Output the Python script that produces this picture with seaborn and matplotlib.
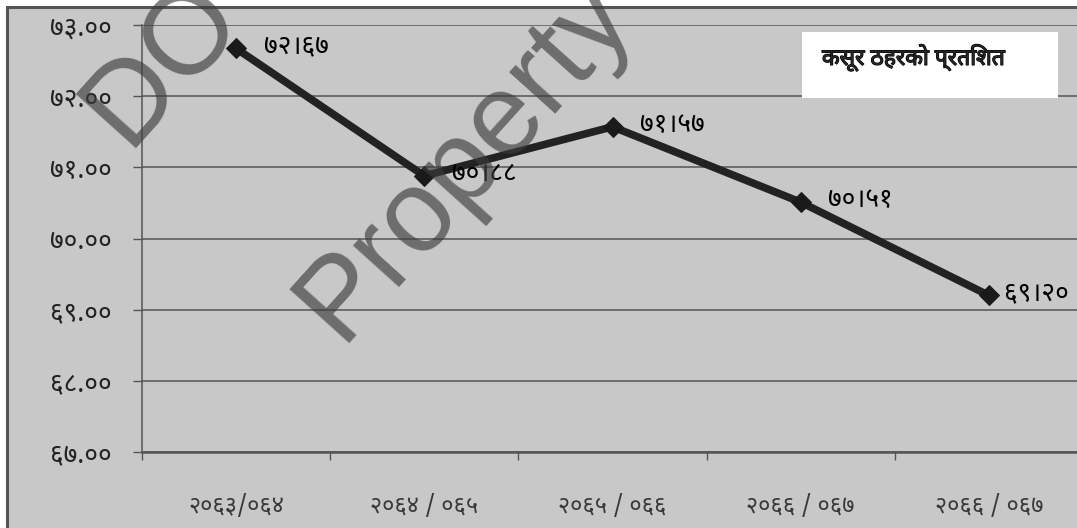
import numpy as np
import matplotlib
matplotlib.use('Agg')
import matplotlib.pyplot as plt
import matplotlib.patheffects as pe
from matplotlib import font_manager
from matplotlib.patches import Rectangle
import seaborn as sns

# Data
years = ['२०६३/०६४', '२०६४ / ०६५', '२०६५ / ०६६', '२०६६ / ०६७', '२०६६ / ०६७']
conviction_rate = [72.67, 70.88, 71.57, 70.51, 69.20]
y_ticks = [67, 68, 69, 70, 71, 72, 73]
legend_label = 'कसूर ठहरको प्रतिशत'

DEVA = str.maketrans('0123456789', '०१२३४५६७८९')


def pick_font(prefs):
    installed = {f.name for f in font_manager.fontManager.ttflist}
    for p in prefs:
        if p in installed:
            return p
    return 'FreeSans'


def main():
    sns.set_style('white')
    deva = pick_font(['Noto Sans Devanagari', 'Hind', 'Mukta', 'Poppins', 'Annapurna SIL', 'FreeSans'])
    plt.rcParams['font.family'] = [deva, 'DejaVu Sans']

    W, H = 1077, 528
    fig = plt.figure(figsize=(W / 100, H / 100), dpi=100)
    fig.patch.set_facecolor('white')

    # chart area
    fig.add_artist(Rectangle((7 / W, -0.1), 1.2, (H - 7) / H + 0.1, transform=fig.transFigure,
                             facecolor='#c8c8c8', edgecolor='#555555', lw=2.2, zorder=-5))

    ax = fig.add_axes([142 / W, 1 - 452 / H, 941 / W, 427 / H])
    ax.patch.set_visible(False)

    x_pos = np.arange(len(years))
    sns.lineplot(x=x_pos, y=conviction_rate, ax=ax, color='#222222', lw=5.5,
                 marker='D', markersize=10, markeredgecolor='#1a1a1a', markerfacecolor='#1a1a1a',
                 zorder=4)

    # data labels (last one pulled in so it stays inside the plot area)
    for x, v in zip(x_pos, conviction_rate):
        dx = 11 if x == x_pos[-1] else 20
        ax.annotate(f'{v:.2f}'.replace('.', '।').translate(DEVA), (x, v),
                    xytext=(dx, 1.5), textcoords='offset points', ha='left', va='center',
                    fontsize=19, color='black', zorder=5, annotation_clip=False)

    ax.set_xlim(-0.5, len(years) - 0.5)
    ax.set_ylim(67, 73)

    ax.set_yticks(y_ticks)
    ax.set_yticklabels([f'{t:.2f}'.translate(DEVA) for t in y_ticks], fontsize=19, color='#222222')
    ax.tick_params(axis='y', length=6.5, width=1, color='#555555', pad=15, left=True)

    ax.set_xticks(np.arange(-0.5, len(years), 1))
    ax.set_xticklabels([])
    ax.tick_params(axis='x', which='major', length=6, width=1, color='#555555', bottom=True)
    ax.set_xticks(x_pos, minor=True)
    ax.set_xticklabels(years, minor=True, fontsize=17, color='#3a3a3a')
    ax.tick_params(axis='x', which='minor', length=0, pad=31)

    ax.yaxis.grid(True, color='#555555', lw=1.1)
    ax.xaxis.grid(False)
    ax.set_axisbelow(True)
    for s in ['top', 'right']:
        ax.spines[s].set_visible(False)
    ax.spines['left'].set_color('#555555')
    ax.spines['left'].set_linewidth(1.1)
    ax.spines['bottom'].set_color('#555555')
    ax.spines['bottom'].set_linewidth(1.8)

    # legend box
    fig.add_artist(Rectangle((802 / W, 1 - 98 / H), 256 / W, 66 / H, transform=fig.transFigure,
                             facecolor='white', edgecolor='none', zorder=6))
    fig.text(822 / W, 1 - 58 / H, legend_label, fontsize=16.5, fontweight='bold',
             ha='left', va='center', zorder=7,
             path_effects=[pe.withStroke(linewidth=0.9, foreground='black')])

    # watermark
    for txt, (px, py) in [('DO', (127, 148)), ('Property', (340, 343))]:
        fig.text(px / W, 1 - py / H, txt, fontsize=84, family='Liberation Sans',
                 color='#3c3c3c', alpha=0.65, rotation=48, rotation_mode='anchor',
                 ha='left', va='baseline', zorder=10)

    fig.savefig('out.png', dpi=100)


if __name__ == '__main__':
    main()
